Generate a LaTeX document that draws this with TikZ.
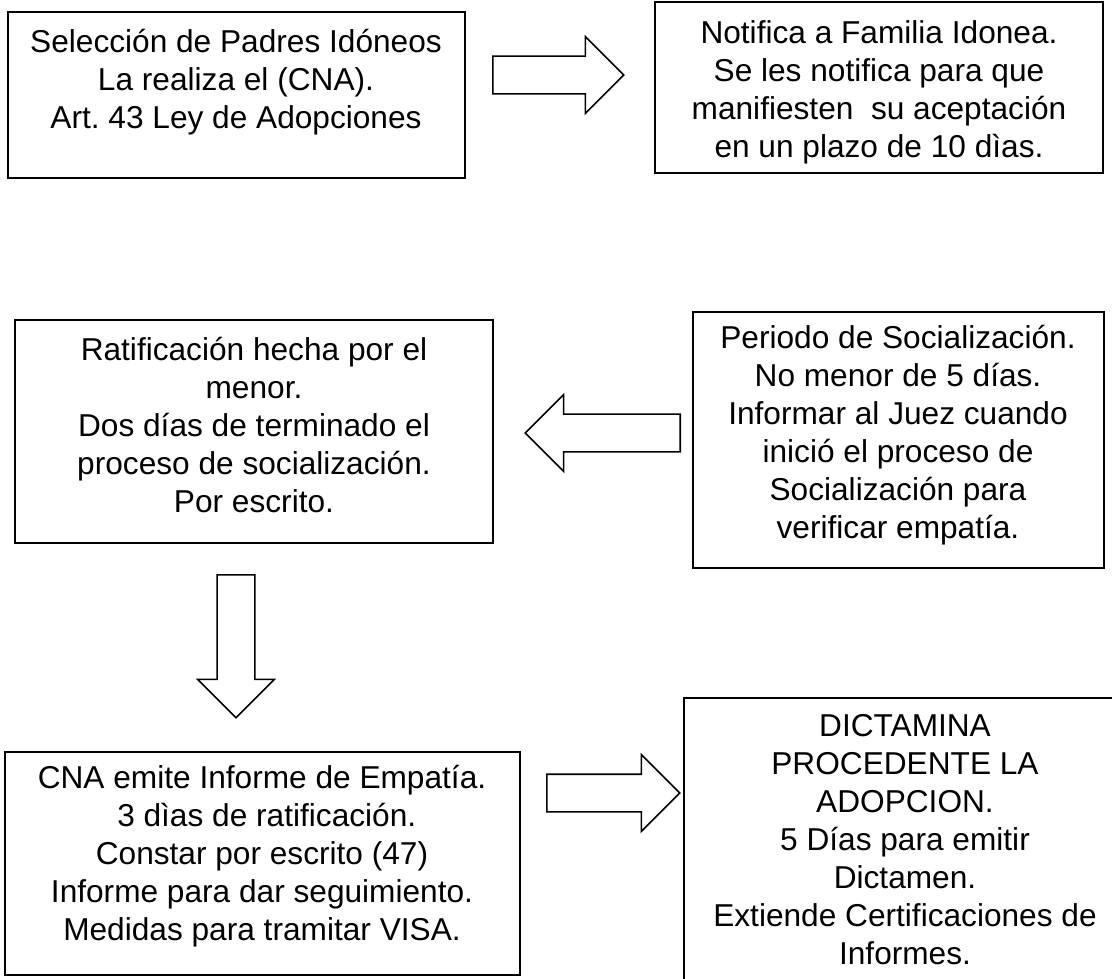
\documentclass[tikz,border=0pt]{standalone}
\usepackage{fontspec}
\setmainfont{Liberation Sans}
\usetikzlibrary{shapes.arrows}
\frenchspacing

\begin{document}
\begin{tikzpicture}[
    x=0.025cm, y=-0.025cm,
    box/.style={draw, line width=1.3pt, inner sep=0pt},
    txt/.style={align=center, inner sep=0pt, font=\fontsize{22.5}{27}\selectfont},
    bigarrow/.style={draw, line width=1.1pt, single arrow, single arrow head extend=0.49cm, inner sep=0.45cm, anchor=tail}
]
    \clip (0,0) rectangle (1112,979);

    % Top row
    \node[box, minimum width=11.425cm, minimum height=4.15cm] (seleccion) at (236.5,95) {};
    \node[txt] (seleccion-t) at (236,82) {Selección de Padres Idóneos\\La realiza el (CNA).\\Art. 43 Ley de Adopciones};
    \node[box, minimum width=11.2cm, minimum height=4.275cm] (notifica) at (879,87.5) {};
    \node[txt] (notifica-t) at (879,92) {Notifica a Familia Idonea.\\Se les notifica para que\\manifiesten\ \ su aceptación\\en un plazo de 10 dìas.};

    % Middle row
    \node[box, minimum width=11.95cm, minimum height=5.575cm] (ratifica) at (254,431.5) {};
    \node[txt] (ratifica-t) at (254,425) {Ratificación hecha por el\\menor.\\Dos días de terminado el\\proceso de socialización.\\Por escrito.};
    \node[box, minimum width=10.275cm, minimum height=6.4cm] (periodo) at (898.5,440) {};
    \node[txt] (periodo-t) at (898,435) {Periodo de Socialización.\\No menor de 5 días.\\Informar al Juez cuando\\inició el proceso de\\Socialización para\\verificar empatía.};

    % Bottom row
    \node[box, minimum width=12.875cm, minimum height=5.575cm] (informe) at (262.5,863.5) {};
    \node[txt] (informe-t) at (262,856) {CNA emite Informe de Empatía.\\\hspace*{.3em}3 dìas de ratificación.\\Constar por escrito (47)\\Informe para dar seguimiento.\\Medidas para tramitar VISA.};
    \node[box, minimum width=11.05cm, minimum height=7.3cm] (dictamen) at (905,844) {};
    \node[txt] (dictamen-t) at (905,840) {DICTAMINA\\PROCEDENTE LA\\ADOPCION.\\5 Días para emitir\\Dictamen.\\Extiende Certificaciones de\\Informes.};

    % Block arrows
    \node[bigarrow, minimum height=3.275cm] (flecha1) at (492,75) {};
    \node[bigarrow, minimum height=3.875cm, shape border rotate=180] (flecha2) at (681,433) {};
    \node[bigarrow, minimum height=3.575cm, shape border rotate=270] (flecha3) at (236,574) {};
    \node[bigarrow, minimum height=3.325cm] (flecha4) at (546,793) {};

\end{tikzpicture}
\end{document}
